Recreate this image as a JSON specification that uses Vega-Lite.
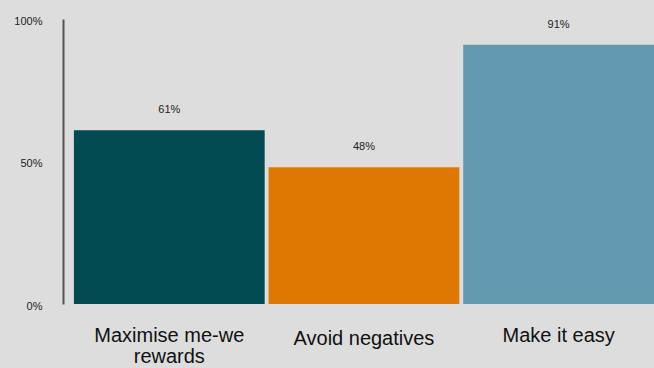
{
  "$schema": "https://vega.github.io/schema/vega-lite/v6.json",
  "width": 591,
  "height": 285,
  "autosize": {"type": "none"},
  "padding": {"left": 63, "top": 19, "right": 0, "bottom": 64},
  "background": "#dddddd",
  "config": {"view": {"stroke": null}, "font": "Liberation Sans"},
  "data": {
    "values": [
      {"category": "Maximise me-we rewards", "value": 0.61, "label": "61%"},
      {"category": "Avoid negatives", "value": 0.48, "label": "48%"},
      {"category": "Make it easy", "value": 0.91, "label": "91%"}
    ]
  },
  "encoding": {
    "x": {
      "field": "category",
      "type": "nominal",
      "sort": null,
      "scale": {"paddingInner": 0.02, "paddingOuter": 0.028, "align": 1},
      "axis": {
        "title": null,
        "domain": false,
        "ticks": false,
        "labelAngle": 0,
        "labelFontSize": 20,
        "labelColor": "#111111",
        "labelPadding": {"condition": {"test": "datum.value == 'Avoid negatives'", "value": 24}, "value": 21},
        "labelLineHeight": 21,
        "labelExpr": "datum.label == 'Maximise me-we rewards' ? ['Maximise me-we', 'rewards'] : datum.label"
      }
    },
    "y": {
      "field": "value",
      "type": "quantitative",
      "scale": {"domain": [0, 1]},
      "axis": {
        "title": null,
        "values": [0, 0.5, 1],
        "format": ".0%",
        "grid": false,
        "ticks": false,
        "domain": true,
        "domainColor": "#555555",
        "domainWidth": 2,
        "labelFontSize": 11,
        "labelColor": "#222222",
        "labelPadding": 21,
        "labelOffset": 2
      }
    }
  },
  "layer": [
    {
      "mark": {"type": "bar"},
      "encoding": {
        "color": {
          "field": "category",
          "type": "nominal",
          "sort": null,
          "scale": {"range": ["#034b52", "#df7800", "#6399b1"]},
          "legend": null
        }
      }
    },
    {
      "mark": {"type": "text", "dy": -20, "fontSize": 11, "color": "#222222"},
      "encoding": {"text": {"field": "label"}}
    }
  ]
}
